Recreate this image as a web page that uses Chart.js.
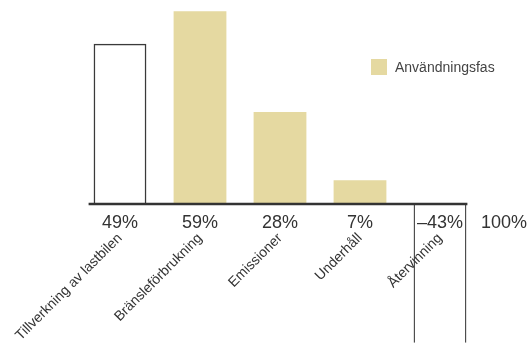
<!DOCTYPE html>
<html>
<head>
<meta charset="utf-8">
<script src="https://cdn.jsdelivr.net/npm/chart.js@4"></script>
<style>
  html, body { margin: 0; padding: 0; background: #fff; }
  #wrap { width: 529px; height: 348px; }
</style>
</head>
<body>
<div id="wrap"><canvas id="lcaChart" width="529" height="348"></canvas></div>
<script>
// Data
const categories = ['Tillverkning av lastbilen', 'Bränsleförbrukning', 'Emissioner', 'Underhåll', 'Återvinning'];
const shares = [49, 59, 28, 7, -43];
const inUsePhase = [false, true, true, true, false];
const legendLabel = 'Användningsfas';

const yellow = '#e5d9a1';
const ink = '#333333';
const fontFamily = "'Liberation Sans', Arial, sans-serif";

// bars outside the use phase are only outlined
const fills = inUsePhase.map(u => u ? yellow : 'rgba(0,0,0,0)');
const borderColors = inUsePhase.map(u => u ? yellow : '#3a3a3a');
const borderWidths = shares.map((v, i) => {
    if (inUsePhase[i]) return 0;
    if (v < 0) return { left: 1.3, right: 1.3, top: 0, bottom: 0 };
    return { left: 1.5, right: 1.5, top: 1.5, bottom: 0 };
});

// axis line, percentages under the bars, total, and legend
const annotate = {
    id: 'annotate',
    afterDatasetsDraw(chart) {
        const ctx = chart.ctx;
        const area = chart.chartArea;
        const bars = chart.getDatasetMeta(0).data;
        const zeroY = chart.scales.y.getPixelForValue(0);

        ctx.save();
        // base line
        const first = bars[0], last = bars[bars.length - 1];
        ctx.strokeStyle = ink;
        ctx.lineWidth = 2.5;
        ctx.beginPath();
        ctx.moveTo(first.x - first.width / 2 - 5, zeroY + 1);
        ctx.lineTo(last.x + last.width / 2 + 1, zeroY + 1);
        ctx.stroke();

        // percentage labels
        ctx.fillStyle = ink;
        ctx.font = '18px ' + fontFamily;
        ctx.textAlign = 'center';
        ctx.textBaseline = 'middle';
        bars.forEach((bar, i) => {
            const txt = (shares[i] < 0 ? '\u2013' + Math.abs(shares[i]) : shares[i]) + '%';
            ctx.fillText(txt, bar.x, zeroY + 20);
        });
        const total = shares.reduce((a, b) => a + b, 0);
        ctx.fillText(total + '%', area.right + 24, zeroY + 20);

        // legend
        ctx.fillStyle = yellow;
        ctx.fillRect(area.right - 109, 59, 16, 16);
        ctx.fillStyle = '#444';
        ctx.font = '14px ' + fontFamily;
        ctx.textAlign = 'left';
        ctx.fillText(legendLabel, area.right - 85, 68);
        ctx.restore();
    }
};

const ctx = document.getElementById('lcaChart').getContext('2d');
new Chart(ctx, {
    type: 'bar',
    data: {
        labels: categories,
        datasets: [{
            label: legendLabel,
            data: shares,
            backgroundColor: fills,
            borderColor: borderColors,
            borderWidth: borderWidths,
            borderSkipped: false,
            categoryPercentage: 1,
            barPercentage: 0.66,
            clip: false
        }]
    },
    options: {
        responsive: false,
        animation: false,
        layout: { padding: { left: 80, right: 49, top: 8, bottom: 0 } },
        plugins: {
            legend: { display: false },
            tooltip: { enabled: false }
        },
        scales: {
            x: {
                grid: { display: false, drawTicks: false },
                border: { display: false },
                ticks: {
                    color: ink,
                    font: { family: fontFamily, size: 14 },
                    minRotation: 45,
                    maxRotation: 45,
                    autoSkip: false,
                    padding: 27
                },
                afterFit: function(scale) {
                    // rotated labels may run off to the left; don't let them shrink the plot
                    scale.height = 145;
                    scale.paddingLeft = 0;
                    scale.paddingRight = 0;
                }
            },
            y: {
                display: false,
                min: 0,
                max: 60
            }
        }
    },
    plugins: [annotate]
});
</script>
</body>
</html>
